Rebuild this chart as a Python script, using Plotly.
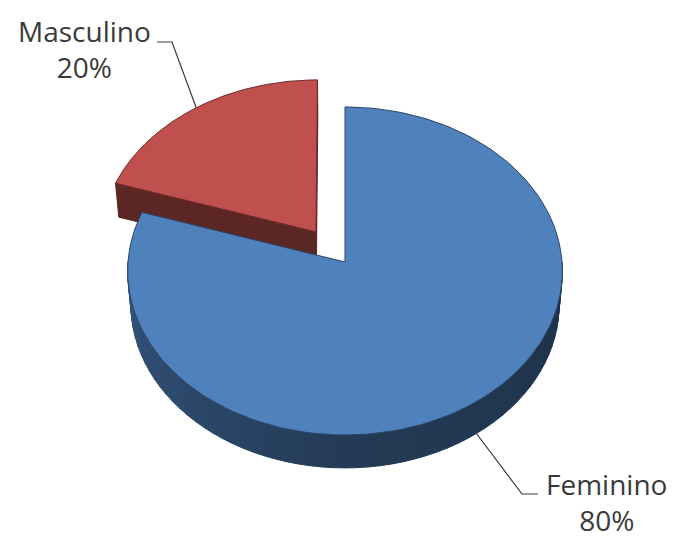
import numpy as np
import plotly.graph_objects as go

# ---- data ----
categories = ["Feminino", "Masculino"]
values = [80, 20]
pulls = [0.0, 0.23]

# ---- styles ----
base_colors = ["#4f81bd", "#c0504d"]
edge_colors = ["#2a4466", "#6e2a28"]
label_pos = [(606, 502), (84, 49)]          # centre of each label block (px)
elbow_pts = [[(522, 494), (538, 494)], [(172, 42), (157, 42)]]
TEXT_COLOR = "#3a3a3a"

# ---- simple perspective projection of a tilted 3-D pie ----
W, Hpx = 676, 539
CX, CY = 345.0, 262.0
FOC = 2602.0
DIST = 11.99
S_T, C_T = 0.7535, 0.657
DEPTH = 0.24


def proj(X, Y, Z):
    X = np.asarray(X, float); Y = np.asarray(Y, float); Z = np.asarray(Z, float)
    d = DIST - Y * S_T - Z * C_T
    return CX + FOC * X / d, CY - FOC * (Y * C_T - Z * S_T) / d


def hex2rgb(h):
    h = h.lstrip("#")
    return np.array([int(h[i:i + 2], 16) for i in (0, 2, 4)], float)


def shade(hexc, f):
    r, g, b = np.clip(hex2rgb(hexc) * f, 0, 255).astype(int)
    return f"rgb({r},{g},{b})"


fig = go.Figure()


def poly(xs, ys, fill, line=None, lw=1.0):
    fig.add_trace(go.Scatter(
        x=list(xs) + [xs[0]], y=list(ys) + [ys[0]], mode="lines", fill="toself",
        fillcolor=fill, line=dict(color=line or fill, width=lw),
        hoverinfo="skip", showlegend=False))


total = float(sum(values))
slices = []
start = 90.0
for cat, v, p, col, ec in zip(categories, values, pulls, base_colors, edge_colors):
    span = 360.0 * v / total
    a0, a1 = start, start - span
    mid = np.radians((a0 + a1) / 2)
    oX, oZ = p * np.cos(mid), -p * np.sin(mid)
    slices.append(dict(cat=cat, v=v, a0=a0, a1=a1, mid=mid, oX=oX, oZ=oZ, col=col, ec=ec))
    start = a1

# paint from back to front
order = sorted(range(len(slices)), key=lambda i: -np.sin(slices[i]["mid"]))

for i in order:
    sl = slices[i]
    a0, a1, oX, oZ, col = sl["a0"], sl["a1"], sl["oX"], sl["oZ"], sl["col"]
    camv = np.array([-oX, DIST * C_T - oZ])
    # cut faces
    for ang, sign in ((a0, -1), (a1, 1)):
        t = np.radians(ang)
        n = np.array([sign * np.sin(t), sign * np.cos(t)])
        if n @ camv > 1e-9:
            rx, rz = oX + np.cos(t), oZ - np.sin(t)
            X = [oX, rx, rx, oX]; Yv = [0, 0, -DEPTH, -DEPTH]; Z = [oZ, rz, rz, oZ]
            px, py = proj(X, Yv, Z)
            poly(px, py, shade(col, 0.48))
    # outer wall (front part), shaded by angle
    nseg = max(2, int(abs(a0 - a1) / 3))
    edges = np.linspace(a0, a1, nseg + 1)
    for k in range(nseg):
        e0, e1 = edges[k], edges[k + 1]
        m = np.radians((e0 + e1) / 2)
        if np.sin(m) >= 0:
            continue
        th = np.radians(np.linspace(e0, e1, 4))
        X = oX + np.cos(th); Z = oZ - np.sin(th)
        tx, ty = proj(X, np.zeros_like(X), Z)
        bx, by = proj(X, np.full_like(X, -DEPTH), Z)
        angd = np.degrees(m) % 360
        f = np.interp(angd, [180, 270, 360], [0.66, 0.46, 0.38])
        poly(np.r_[tx, bx[::-1]], np.r_[ty, by[::-1]], shade(col, f))
    # top face
    th = np.radians(np.linspace(a0, a1, 200))
    X = np.r_[oX, oX + np.cos(th)]; Z = np.r_[oZ, oZ - np.sin(th)]
    px, py = proj(X, np.zeros_like(X), Z)
    poly(px, py, col, line=sl["ec"], lw=1.0)

# labels and leader lines
annotations, shapes = [], []
for sl, (lx, ly), elb in zip(slices, label_pos, elbow_pts):
    pct = round(100 * sl["v"] / total)
    annotations.append(dict(
        x=lx, y=ly, xref="x", yref="y", showarrow=False,
        text=f"{sl['cat']}<br>{pct}%", align="center", xanchor="center", yanchor="middle",
        font=dict(family="Open Sans", size=28, color=TEXT_COLOR)))
    X = sl["oX"] + np.cos(sl["mid"]); Z = sl["oZ"] - np.sin(sl["mid"])
    Yv = -DEPTH if np.sin(sl["mid"]) < 0 else 0.0
    ax, ay = proj(X, Yv, Z)
    pts = [(float(ax), float(ay))] + elb
    path = "M " + " L ".join(f"{x:.1f},{y:.1f}" for x, y in pts)
    shapes.append(dict(type="path", path=path, xref="x", yref="y",
                       line=dict(color=TEXT_COLOR, width=1.2)))

fig.update_layout(
    width=W, height=Hpx, margin=dict(l=0, r=0, t=0, b=0),
    paper_bgcolor="white", plot_bgcolor="white",
    xaxis=dict(range=[0, W], visible=False, fixedrange=True),
    yaxis=dict(range=[Hpx, 0], visible=False, fixedrange=True),
    annotations=annotations, shapes=shapes, showlegend=False)

fig.write_html("out.html")
